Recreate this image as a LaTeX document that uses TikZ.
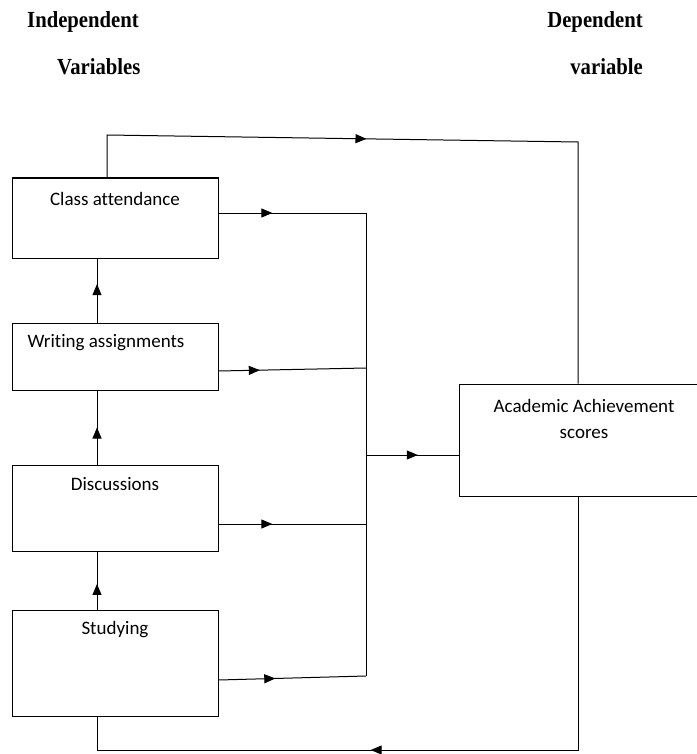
\documentclass[tikz,border=0pt]{standalone}
\usepackage{fontspec}
\setmainfont{Liberation Serif}
\newfontfamily\headfont{Liberation Serif}[FakeStretch=0.9]
\newfontfamily\boxfont{Carlito}[Ligatures=NoCommon]
\usetikzlibrary{arrows.meta,decorations.markings}

\begin{document}
\begin{tikzpicture}[x=1pt,y=-1pt]
    \tikzset{VarBox/.style={draw, line width=1pt, inner sep=0pt},
        Head/.style={font=\headfont\fontsize{23}{27}\selectfont\bfseries, inner sep=0pt},
        Label/.style={font=\boxfont\fontsize{19}{26}\selectfont, inner sep=0pt, align=center},
        Link/.style={line width=1pt},
        MidArrow/.style={Link, postaction={decorate},
            decoration={markings, mark=at position #1 with {\arrow{Triangle[length=11pt,width=9pt]}}}}}
    \useasboundingbox (0,0) rectangle (696,754);
    % headings
    \node[Head, anchor=base west] (indep) at (27,28) {Independent};
    \node[Head, anchor=base west] (vars) at (57,75) {Variables};
    \node[Head, anchor=base east] (dep) at (643,28) {Dependent};
    \node[Head, anchor=base east] (depvar) at (643,75) {variable};
    % boxes
    \node[VarBox, minimum width=206pt, minimum height=80pt] (ca) at (115,218) {};
    \node[VarBox, minimum width=206pt, minimum height=67pt] (wa) at (115,356.5) {};
    \node[VarBox, minimum width=206pt, minimum height=86pt] (ds) at (115,508) {};
    \node[VarBox, minimum width=206pt, minimum height=106pt] (st) at (115,663) {};
    \node[VarBox, minimum width=250pt, minimum height=112pt] (aa) at (584,440) {};
    \node[Label] (catext) at (115,199) {Class attendance};
    \node[Label] (watext) at (106,343) {Writing assignments};
    \node[Label] (dstext) at (115,484) {Discussions};
    \node[Label] (sttext) at (115,630) {Studying};
    \node[Label] (aatext) at (584,419) {Academic Achievement\\scores};
    % bus
    \coordinate (b1) at (366,213);
    \coordinate (b2) at (366,368);
    \coordinate (b3) at (366,524);
    \coordinate (b4) at (366,676);
    \coordinate (bm) at (366,455);
    \draw[Link] (b1) -- (b4);
    \draw[MidArrow=0.365] ([yshift=5pt]ca.east) -- (b1);
    \draw[MidArrow=0.28] ([yshift=-14.5pt]wa.east) -- (b2);
    \draw[MidArrow=0.365] ([yshift=-16pt]ds.east) -- (b3);
    \draw[MidArrow=0.385] ([yshift=-17pt]st.east) -- (b4);
    \draw[MidArrow=0.56] (bm) -- (aa.west |- bm);
    % chain
    \draw[MidArrow=0.44] ([xshift=-18pt]st.north) -- ([xshift=-18pt]ds.south);
    \draw[MidArrow=0.5] ([xshift=-18pt]ds.north) -- ([xshift=-18pt]wa.south);
    \draw[MidArrow=0.6] ([xshift=-18pt]wa.north) -- ([xshift=-18pt]ca.south);
    % loops
    \coordinate (tl) at (107,135);
    \coordinate (tr) at (578,142);
    \coordinate (br) at (578,750);
    \coordinate (bl) at (97,750);
    \draw[MidArrow=0.4] ([xshift=-8pt]ca.north) -- (tl) -- (tr) -- ([xshift=-6pt]aa.north);
    \draw[MidArrow=0.6] ([xshift=-6pt]aa.south) -- (br) -- (bl) -- ([xshift=-18pt]st.south);
\end{tikzpicture}
\end{document}
